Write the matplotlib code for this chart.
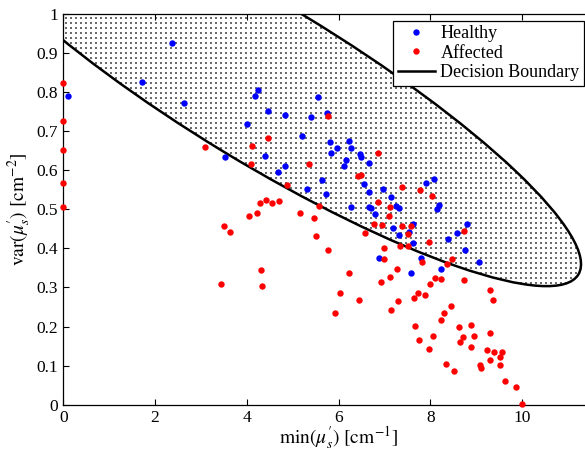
import numpy as np
import matplotlib
matplotlib.use("Agg")
import matplotlib.pyplot as plt
from matplotlib.patches import Circle
from matplotlib.transforms import Affine2D
from matplotlib.lines import Line2D

plt.rcParams['font.family'] = ['Liberation Serif', 'DejaVu Serif']
plt.rcParams['mathtext.fontset'] = 'stix'
plt.rcParams['font.size'] = 12

healthy_x = [0.10, 1.71, 2.36, 2.63, 3.52, 4.01, 4.18, 4.24, 4.40, 4.46, 4.67, 4.82, 4.82,
             5.20, 5.32, 5.39, 5.55, 5.64, 5.73, 5.74, 5.80, 5.83, 5.97, 6.12, 6.17, 6.23,
             6.27, 6.27, 6.47, 6.49, 6.56, 6.67, 6.67, 6.67, 6.70, 6.80, 6.88, 6.97, 7.15,
             7.19, 7.25, 7.31, 7.32, 7.53, 7.58, 7.61, 7.63, 7.80, 7.91, 8.08, 8.14, 8.19,
             8.24, 8.38, 8.57, 8.76, 8.79, 9.06]
healthy_y = [0.790, 0.826, 0.925, 0.771, 0.634, 0.718, 0.790, 0.806, 0.637, 0.751, 0.595, 0.741, 0.612,
             0.688, 0.553, 0.736, 0.788, 0.576, 0.539, 0.747, 0.672, 0.645, 0.658, 0.610, 0.627, 0.676,
             0.657, 0.505, 0.642, 0.635, 0.566, 0.619, 0.545, 0.507, 0.504, 0.488, 0.376, 0.551, 0.532,
             0.451, 0.509, 0.504, 0.434, 0.441, 0.338, 0.463, 0.415, 0.375, 0.567, 0.577, 0.500, 0.512,
             0.346, 0.423, 0.439, 0.395, 0.462, 0.366]

affected_x = [0.0, 0.0, 0.0, 0.0, 0.0, 3.09, 3.44, 3.50, 3.63, 4.05, 4.10, 4.12, 4.21, 4.29,
              4.30, 4.33, 4.41, 4.45, 4.54, 4.71, 4.87, 5.15, 5.35, 5.47, 5.51, 5.58, 5.77,
              5.77, 5.93, 6.02, 6.22, 6.41, 6.45, 6.49, 6.58, 6.78, 6.86, 6.86, 6.93, 6.94,
              6.99, 6.99, 7.10, 7.12, 7.12, 7.15, 7.28, 7.30, 7.33, 7.37, 7.39, 7.52, 7.52,
              7.57, 7.64, 7.66, 7.72, 7.76, 7.77, 7.81, 7.88, 7.97, 7.97, 8.00, 8.03, 8.05,
              8.10, 8.22, 8.24, 8.29, 8.33, 8.37, 8.44, 8.47, 8.52, 8.62, 8.65, 8.70, 8.72,
              8.74, 8.88, 8.88, 8.95, 9.08, 9.09, 9.23, 9.30, 9.30, 9.30, 9.36, 9.39, 9.51,
              9.51, 9.56, 9.62, 9.86, 10.0]
affected_y = [0.824, 0.727, 0.652, 0.567, 0.506, 0.660, 0.310, 0.457, 0.442, 0.483, 0.616, 0.662, 0.490, 0.515,
              0.344, 0.303, 0.524, 0.682, 0.515, 0.521, 0.562, 0.491, 0.617, 0.477, 0.432, 0.509, 0.740,
              0.397, 0.235, 0.285, 0.337, 0.585, 0.269, 0.588, 0.440, 0.462, 0.643, 0.520, 0.315, 0.460,
              0.401, 0.374, 0.484, 0.507, 0.327, 0.243, 0.347, 0.266, 0.405, 0.457, 0.558, 0.438, 0.405,
              0.458, 0.274, 0.201, 0.286, 0.165, 0.550, 0.364, 0.280, 0.416, 0.143, 0.310, 0.535, 0.176,
              0.325, 0.216, 0.321, 0.234, 0.104, 0.359, 0.253, 0.373, 0.085, 0.198, 0.160, 0.174, 0.319,
              0.444, 0.205, 0.148, 0.177, 0.101, 0.095, 0.140, 0.294, 0.183, 0.114, 0.268, 0.134, 0.121,
              0.101, 0.136, 0.061, 0.045, 0.001]

# decision boundary ellipse: centre and shape matrix (unit circle -> data)
ell_center = (4.3866, 0.8205)
ell_matrix = [[-6.8351, 0.8932], [0.4873, 0.1730]]

fig = plt.figure(figsize=(5.85, 4.51), dpi=100)
ax = fig.add_axes([0.1082, 0.1027, 0.9415, 0.8663])

tr = Affine2D(np.array([[ell_matrix[0][0], ell_matrix[0][1], ell_center[0]],
                        [ell_matrix[1][0], ell_matrix[1][1], ell_center[1]],
                        [0, 0, 1]])) + ax.transData
boundary = Circle((0, 0), 1, transform=tr, facecolor='none', edgecolor='black',
                  linewidth=1.8, zorder=2)
ax.add_patch(boundary)

# stipple fill inside the boundary
gx, gy = np.meshgrid(np.arange(0.05, 12, 0.109), np.arange(0.004, 1, 0.0128))
dots = ax.scatter(gx.ravel(), gy.ravel(), s=0.55, marker='s', color='0.42', linewidths=0, zorder=1)
dots.set_clip_path(boundary)

ax.plot(healthy_x, healthy_y, 'o', color='#0000ff', markersize=4.6, markeredgewidth=0, zorder=3,
        clip_on=False)
ax.plot(affected_x, affected_y, 'o', color='#ff0000', markersize=4.6, markeredgewidth=0, zorder=3,
        clip_on=False)

ax.set_xlim(0, 12)
ax.set_ylim(0, 1)
ax.set_xticks([0, 2, 4, 6, 8, 10])
ax.set_yticks(np.arange(0, 1.01, 0.1))
ax.set_yticklabels(['0', '0.1', '0.2', '0.3', '0.4', '0.5', '0.6', '0.7', '0.8', '0.9', '1'])
ax.tick_params(direction='in', top=True, right=True, length=4, width=0.8, labelsize=12.5, pad=4)
for s in ax.spines.values():
    s.set_linewidth(0.9)

ax.set_xlabel(r"$\min(\mu_s^{\prime})\ [\mathrm{cm}^{-1}]$", fontsize=14, labelpad=-1)
ax.set_ylabel(r"$\mathrm{var}(\mu_s^{\prime})\ [\mathrm{cm}^{-2}]$", fontsize=14, labelpad=2)

handles = [Line2D([], [], marker='o', ls='none', color='#0000ff', markersize=4.6, markeredgewidth=0),
           Line2D([], [], marker='o', ls='none', color='#ff0000', markersize=4.6, markeredgewidth=0),
           Line2D([], [], color='black', linewidth=1.8)]
leg = fig.legend(handles, ['Healthy', 'Affected', 'Decision Boundary'], loc='upper right',
                 bbox_to_anchor=(584 / 585, 1 - 20.5 / 451), bbox_transform=fig.transFigure,
                 fancybox=False, edgecolor='black', framealpha=1, fontsize=13,
                 borderpad=0.25, labelspacing=0.15, handlelength=2.05, handletextpad=0.3,
                 borderaxespad=0)
leg.get_frame().set_linewidth(0.9)

fig.savefig('out.png', dpi=100)
